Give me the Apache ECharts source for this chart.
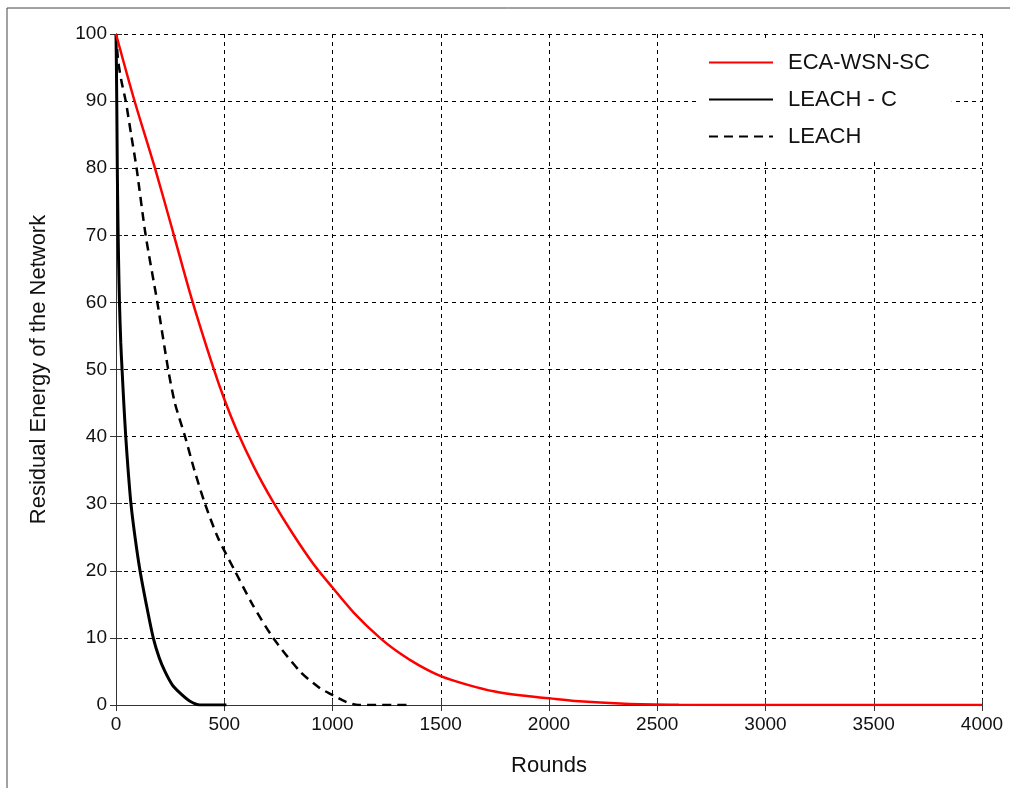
<!DOCTYPE html>
<html>
<head>
<meta charset="utf-8">
<script src="https://cdn.jsdelivr.net/npm/echarts@6/dist/echarts.min.js"></script>
<style>
html,body{margin:0;padding:0;background:#fff;}
#main{width:1010px;height:788px;}
</style>
</head>
<body>
<div id="main"></div>
<script>
const seriesNames = ['ECA-WSN-SC', 'LEACH - C', 'LEACH'];

const ecaRounds = [0, 84, 180, 265, 349, 449, 500, 557, 640, 725, 815, 910, 1000, 1100, 1219, 1311, 1400, 1500, 1625, 1750, 1875, 2000, 2120, 2350, 2600, 3000, 4000];
const ecaEnergy = [100, 90.2, 80, 70.3, 60.6, 50.3, 45.6, 41.0, 35.3, 30.3, 25.6, 21.1, 17.5, 13.7, 10, 7.7, 5.9, 4.3, 3.0, 2.0, 1.4, 1.0, 0.6, 0.2, 0.05, 0, 0];

const leachcRounds = [0, 2, 4, 6, 9, 12, 16, 22, 28, 36, 45, 56, 69, 88, 111, 140, 172, 200, 226, 260, 295, 340, 388, 510];
const leachcEnergy = [100, 95, 88, 80, 72, 66, 60, 54, 50, 45, 40, 35, 30, 25, 20, 15, 10, 7, 5, 3, 1.8, 0.6, 0, 0];

const leachRounds = [0, 10, 25, 45, 70, 95, 137, 191, 241, 272, 319, 362, 411, 470, 549, 630, 726, 850, 942, 1000, 1060, 1120, 1365];
const leachEnergy = [100, 96, 93, 90, 85, 80, 70, 60, 50, 45, 40, 35, 30, 25, 20, 15, 10, 5, 2.5, 1.5, 0.5, 0, 0];

const xTicks = {min: 0, max: 4000, interval: 500};
const yTicks = {min: 0, max: 100, interval: 10};

function pairs(xs, ys) { return xs.map((x, i) => [x, ys[i]]); }

const font = 'Liberation Sans, Arial, sans-serif';
const chart = echarts.init(document.getElementById('main'), null, {renderer: 'canvas'});

const hiddenAxis = {
  axisLabel: {show: false}, splitLine: {show: false},
  axisLine: {show: true, lineStyle: {color: '#333', width: 1}},
  axisTick: {show: true, inside: true, length: 6, lineStyle: {color: '#333'}}
};

chart.setOption({
  backgroundColor: '#fff',
  animation: false,
  grid: {left: 116, right: 28, top: 34, bottom: 83, containLabel: false},
  graphic: [
    {type: 'line', shape: {x1: 7, y1: 8, x2: 1010, y2: 8}, style: {stroke: '#444', lineWidth: 1}},
    {type: 'line', shape: {x1: 7, y1: 8, x2: 7, y2: 788}, style: {stroke: '#444', lineWidth: 1}}
  ],
  legend: {
    orient: 'vertical', left: 696, top: 42,
    backgroundColor: '#fff', padding: [8, 22, 10, 12],
    itemWidth: 64, itemHeight: 14, itemGap: 12,
    itemStyle: {opacity: 0, borderWidth: 0},
    textStyle: {fontFamily: font, fontSize: 22, lineHeight: 25, color: '#111', padding: [0, 0, 0, 10]},
    data: seriesNames
  },
  xAxis: [
    Object.assign({
      type: 'value', min: xTicks.min, max: xTicks.max, interval: xTicks.interval,
      name: 'Rounds', nameLocation: 'middle', nameGap: 50,
      nameTextStyle: {fontFamily: font, fontSize: 22, color: '#111'},
      axisLabel: {fontFamily: font, fontSize: 19, color: '#111', margin: 10, formatter: v => String(v)},
      splitLine: {show: true, lineStyle: {color: '#000', type: [4, 4], width: 1}}
    }, {
      axisLine: hiddenAxis.axisLine, axisTick: hiddenAxis.axisTick
    }),
    Object.assign({type: 'value', position: 'top', min: xTicks.min, max: xTicks.max, interval: xTicks.interval}, hiddenAxis)
  ],
  yAxis: [
    Object.assign({
      type: 'value', min: yTicks.min, max: yTicks.max, interval: yTicks.interval,
      name: 'Residual Energy of the Network', nameLocation: 'middle', nameGap: 66,
      nameTextStyle: {fontFamily: font, fontSize: 22, color: '#111'},
      axisLabel: {fontFamily: font, fontSize: 19, color: '#111', margin: 9, formatter: v => String(v)},
      splitLine: {show: true, lineStyle: {color: '#000', type: [4, 4], width: 1}}
    }, {
      axisLine: hiddenAxis.axisLine, axisTick: hiddenAxis.axisTick
    }),
    Object.assign({type: 'value', position: 'right', min: yTicks.min, max: yTicks.max, interval: yTicks.interval}, hiddenAxis)
  ],
  series: [
    {
      name: seriesNames[0], type: 'line', data: pairs(ecaRounds, ecaEnergy),
      smooth: 0.3, symbol: 'none', z: 5,
      lineStyle: {color: '#ff0000', width: 2.5}, itemStyle: {color: '#ff0000'}
    },
    {
      name: seriesNames[1], type: 'line', data: pairs(leachcRounds, leachcEnergy),
      smooth: 0.25, symbol: 'none', z: 4,
      lineStyle: {color: '#000', width: 3}, itemStyle: {color: '#000'}
    },
    {
      name: seriesNames[2], type: 'line', data: pairs(leachRounds, leachEnergy),
      smooth: 0.25, symbol: 'none', z: 4,
      lineStyle: {color: '#000', width: 2.5, type: [9, 6]}, itemStyle: {color: '#000'}
    }
  ]
});
</script>
</body>
</html>
